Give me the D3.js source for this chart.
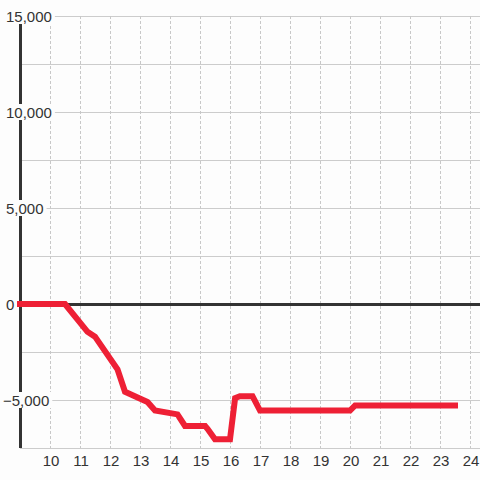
<!DOCTYPE html>
<html>
<head>
<meta charset="utf-8">
<script src="https://cdn.jsdelivr.net/npm/d3@7"></script>
<style>
  html, body { margin: 0; padding: 0; background: #fdfdfd; }
  svg { display: block; }
  text { font-family: "Liberation Sans", Arial, sans-serif; }
</style>
</head>
<body>
<svg id="chart" width="480" height="480"></svg>
<script>
// Data (hour of day, cumulative value)
const hours  = [9, 10.5, 11.25, 11.5, 12.25, 12.5, 13.25, 13.5, 14.25, 14.5, 15.17, 15.25, 15.5, 16, 16.17, 16.33, 16.75, 17, 20, 20.17, 23.5];
const values = [0, 0, -1450, -1700, -3400, -4570, -5100, -5550, -5750, -6350, -6350, -6500, -7050, -7050, -4900, -4800, -4800, -5550, -5550, -5280, -5280];
const xTicks = [10, 11, 12, 13, 14, 15, 16, 17, 18, 19, 20, 21, 22, 23, 24];
const yLabelTicks = [-5000, 0, 5000, 10000, 15000];
const yGridTicks = [-7500, -5000, -2500, 0, 2500, 5000, 7500, 10000, 12500, 15000];

const svg = d3.select("#chart");
const W = 480, H = 480;
svg.append("rect").attr("width", W).attr("height", H).attr("fill", "#fdfdfd");

const x = d3.scaleLinear().domain([9, 24 + 1/3]).range([20, 480]);
const y = d3.scaleLinear().domain([-7500, 15000]).range([448, 16]);

// horizontal gridlines
svg.append("g").selectAll("line").data(yGridTicks).join("line")
  .attr("x1", x(9)).attr("x2", W)
  .attr("y1", d => y(d) + 0.5).attr("y2", d => y(d) + 0.5)
  .attr("stroke", "#cccccc").attr("stroke-width", 1);

// vertical dashed gridlines
svg.append("g").selectAll("line").data(xTicks).join("line")
  .attr("x1", d => x(d) + 0.5).attr("x2", d => x(d) + 0.5)
  .attr("y1", y(15000)).attr("y2", y(-7500))
  .attr("stroke", "#c8c8c8").attr("stroke-width", 1)
  .attr("stroke-dasharray", "3,2");

// zero line
svg.append("line")
  .attr("x1", x(9)).attr("x2", W)
  .attr("y1", y(0) + 0.5).attr("y2", y(0) + 0.5)
  .attr("stroke", "#333").attr("stroke-width", 3);

// left axis line
svg.append("line")
  .attr("x1", x(9) + 0.5).attr("x2", x(9) + 0.5)
  .attr("y1", y(15000)).attr("y2", y(-7500))
  .attr("stroke", "#333").attr("stroke-width", 3);

// y labels with background
const fmt = d3.format(",");
const yl = svg.append("g");
yLabelTicks.forEach(v => {
  const g = yl.append("g");
  const bg = g.append("rect").attr("fill", "#fdfdfd");
  const t = g.append("text")
    .attr("x", 6).attr("y", y(v)).attr("dy", "0.42em")
    .attr("font-size", 15).attr("fill", "#333")
    .text(fmt(v));
  if (v < 0) {
    const mw = t.node().getSubStringLength(0, 1);
    t.attr("x", Math.max(3, 7 - mw));
  }
  const bb = t.node().getBBox();
  const bx = Math.max(0, bb.x - 1);
  bg.attr("x", bx).attr("y", y(v) - 8)
    .attr("width", bb.x + bb.width + 3 - bx).attr("height", 16);
});

// x labels
svg.append("g").selectAll("text").data(xTicks).join("text")
  .attr("x", d => x(d) + 1).attr("y", 466)
  .attr("text-anchor", "middle")
  .attr("font-size", 15).attr("fill", "#333")
  .text(d => d);

// data line
const pts = hours.map((h, i) => [h, values[i]]);
const line = d3.line().x(d => x(d[0])).y(d => y(d[1]));
svg.append("path").datum(pts)
  .attr("d", line)
  .attr("fill", "none")
  .attr("stroke", "#ee2035")
  .attr("stroke-width", 6)
  .attr("stroke-linecap", "square")
  .attr("stroke-linejoin", "miter");
</script>
</body>
</html>
